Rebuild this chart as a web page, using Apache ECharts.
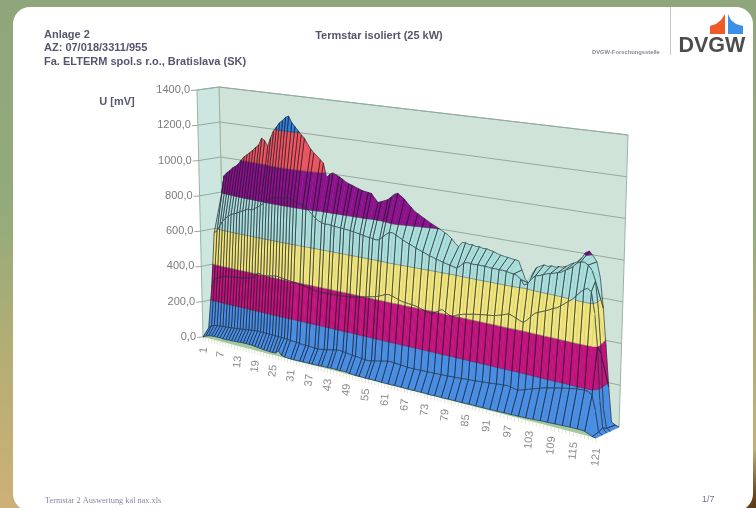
<!DOCTYPE html>
<html><head><meta charset="utf-8">
<style>
html,body{margin:0;padding:0;width:756px;height:508px;overflow:hidden;
background:radial-gradient(circle at 756px 508px,#5a3a14 0,#6b4a20 14px,rgba(107,74,32,0) 60px),linear-gradient(180deg,#8ea67a 0%,#93aa7c 40%,#b4ae74 70%,#cdb077 100%);}
#c{width:756px;height:508px;filter:blur(0.45px);}
</style>
<script src="https://cdn.jsdelivr.net/npm/echarts@6/dist/echarts.min.js"></script>
</head><body><div id="c"></div>
<script>
// Surface ridges, front (row0) to back (row4); index 0 is measurement 1
const row0 = [0,10,15,18,20,20,20,19,18,20,20,22,22,24,24,25,25,24,22,20,18,16,15,14,13,15,30,10,6,4,3,3,3,4,4,5,5,5,6,6,7,8,8,9,10,9,9,10,10,6,5,4,4,4,3,3,4,4,4,3,3,3,3,4,4,4,3,3,3,4,4,4,4,3,3,4,4,4,4,5,5,5,5,5,5,6,6,6,6,6,6,6,7,7,7,8,8,8,9,9,10,10,11,12,13,14,15,15,16,17,18,18,19,20,20,20,20,18,10,2,0];
const row1 = [45,60,66,68,70,72,73,75,76,78,80,82,84,86,88,90,93,95,94,94,93,92,93,92,91,90,90,88,86,85,84,82,80,80,79,78,77,76,78,82,85,88,92,95,97,95,93,90,88,86,85,83,81,80,83,87,90,94,98,102,103,102,100,99,97,96,95,95,96,96,97,97,98,98,99,99,100,101,102,103,104,105,107,108,109,110,112,113,115,116,118,120,122,123,125,122,118,115,120,126,132,138,144,150,156,160,164,168,172,176,180,183,186,190,190,191,190,175,108,10,0];
const row2 = [270,318,330,338,345,350,352,354,355,358,360,362,365,370,375,382,408,403,398,402,405,408,412,410,408,405,403,400,398,396,394,390,387,384,380,378,375,374,376,375,378,377,380,379,381,382,383,386,390,393,397,402,406,410,414,420,428,436,440,436,430,424,418,416,414,412,410,405,400,395,390,387,398,410,420,410,400,395,405,412,418,422,425,430,432,435,438,440,442,445,450,455,462,468,462,455,447,440,455,475,495,505,512,520,528,538,545,558,572,586,600,620,640,658,668,655,558,400,150,20,0];
const row3 = [575,590,620,650,670,685,698,705,712,722,730,738,748,742,755,765,778,792,808,822,832,838,835,840,846,848,842,836,830,824,818,811,795,778,762,750,744,738,741,738,736,735,733,732,730,728,726,722,720,716,712,710,708,704,708,725,742,755,758,748,740,730,722,715,708,700,693,686,680,673,668,662,658,652,648,644,640,635,650,668,674,672,670,673,671,672,670,668,669,667,668,666,662,660,656,640,615,625,652,670,675,682,690,695,700,706,712,725,735,748,768,778,780,770,748,700,560,360,100,10,0];
const row4 = [790,895,915,930,948,960,975,1000,1021,1035,1050,1066,1085,1100,1140,1130,1100,1150,1190,1215,1240,1255,1275,1284,1250,1230,1210,1190,1174,1145,1119,1100,1085,1068,1052,976,995,1006,998,990,980,968,960,955,948,942,936,932,930,927,905,885,892,900,908,925,942,950,938,925,905,888,870,860,850,840,830,820,812,803,795,785,775,760,740,725,750,752,746,748,742,744,738,740,735,732,725,720,717,715,712,710,708,665,620,606,660,690,700,710,705,712,708,714,715,722,735,745,755,775,805,815,795,770,697,553,370,180,15,5,0];
const ridges = [row0,row1,row2,row3,row4];
const ridgeDepth = [0,0.27,0.45,0.62,1];
const bandLevels = [0,200,400,600,800,1000,1200,1400];
const bandColors = ['#4a8fe6','#c4127f','#f1e67c','#a9e0dc','#8f118f','#ee5560','#2f7fdc'];
const yTicks = [0,200,400,600,800,1000,1200,1400];
const xTicks = [1,7,13,19,25,31,37,43,49,55,61,67,73,79,85,91,97,103,109,115,121];

const GL=197,GT=90,GW=400,GH=248;
// projected box: [t][depth][height]
const CORNERS={f0:[203,337],f1:[197,90],b0:[225,332],b1:[219,87],F0:[596,438],F1:[605,142],B0:[619,427],B1:[628,135]};
const warp=t=>0.86*t/(1-0.14*t);
function lerp(a,b,k){return [a[0]+(b[0]-a[0])*k,a[1]+(b[1]-a[1])*k];}
// api.coord gives flat position on the hidden axes, then the box projection leans it
function project(api,i,d,v){
  const p=api.coord([i,v]);
  const t=warp((p[0]-GL)/GW), h=(GT+GH-p[1])/GH, c=CORNERS;
  const L=lerp(lerp(c.f0,c.f1,h),lerp(c.b0,c.b1,h),d);
  const R=lerp(lerp(c.F0,c.F1,h),lerp(c.B0,c.B1,h),d);
  return lerp(L,R,t);
}
function clip(poly,lv,keepAbove){
  const out=[];
  for(let k=0;k<poly.length;k++){
    const a=poly[k],b=poly[(k+1)%poly.length];
    const ia=keepAbove?a[2]>=lv:a[2]<=lv, ib=keepAbove?b[2]>=lv:b[2]<=lv;
    if(ia) out.push(a);
    if(ia!==ib){const s=(lv-a[2])/(b[2]-a[2]);out.push([a[0]+(b[0]-a[0])*s,a[1]+(b[1]-a[1])*s,lv]);}
  }
  return out;
}
const cells=[];
for(let j=ridges.length-2;j>=0;j--) for(let i=120;i>=1;i--) cells.push([i,j]);

function wireStyle(i){
  const strong=i<28 || (i<58 ? i%3!==0 : i%2===0);
  return strong ? {stroke:'#14141f',lineWidth:0.8,opacity:0.82} : {stroke:'#14141f',lineWidth:0.5,opacity:0.12};
}
function renderCell(params,api){
  const i=api.value(0),j=api.value(1);
  const q=[[i,ridgeDepth[j],ridges[j][i-1]],[i+1,ridgeDepth[j],ridges[j][i]],[i+1,ridgeDepth[j+1],ridges[j+1][i]],[i,ridgeDepth[j+1],ridges[j+1][i-1]]];
  const P=a=>project(api,a[0],a[1],a[2]);
  const ch=[];
  for(let b=0;b<bandColors.length;b++){
    const p=clip(clip(q,bandLevels[b],true),bandLevels[b+1],false);
    if(p.length>2) ch.push({type:'polygon',shape:{points:p.map(P)},style:{fill:bandColors[b],stroke:bandColors[b],lineWidth:0.4}});
  }
  const seg=(A,B,s)=>{const a=P(A),b=P(B);ch.push({type:'line',shape:{x1:a[0],y1:a[1],x2:b[0],y2:b[1]},style:s});};
  seg(q[1],q[2],wireStyle(i+1)); seg(q[0],q[3],wireStyle(i));
  for(let b=1;b<bandLevels.length-1;b++){
    const lv=bandLevels[b],pts=[];
    for(let k=0;k<4;k++){const A=q[k],B=q[(k+1)%4];
      if((A[2]-lv)*(B[2]-lv)<0){const s=(lv-A[2])/(B[2]-A[2]);pts.push(P([A[0]+(B[0]-A[0])*s,A[1]+(B[1]-A[1])*s,lv]));}}
    if(pts.length>=2) ch.push({type:'line',shape:{x1:pts[0][0],y1:pts[0][1],x2:pts[1][0],y2:pts[1][1]},style:{stroke:'#2c2c3a',lineWidth:0.6,opacity:0.7}});
  }
  const ridge={stroke:'#23303a',lineWidth:0.8,opacity:0.85};
  seg(q[0],q[1],ridge); seg(q[3],q[2],ridge);
  return {type:'group',children:ch};
}
function renderBox(params,api){
  const PP=(t,d,v)=>project(api,t,d,v), ch=[];
  ch.push({type:'polygon',shape:{points:[PP(1,1,0),PP(121,1,0),PP(121,1,1400),PP(1,1,1400)]},style:{fill:'#d0e3d9',stroke:'#9cb4a9',lineWidth:1}});
  ch.push({type:'polygon',shape:{points:[PP(1,0,0),PP(1,1,0),PP(1,1,1400),PP(1,0,1400)]},style:{fill:'#cde6df',stroke:'#9cb4a9',lineWidth:1}});
  ch.push({type:'polygon',shape:{points:[PP(1,0,0),PP(121,0,0),PP(121,1,0),PP(1,1,0)]},style:{fill:'#a3c99f'}});
  yTicks.forEach(v=>{
    const a=PP(1,0,v),b=PP(1,1,v),c=PP(121,1,v);
    ch.push({type:'polyline',shape:{points:[[a[0]-6,a[1]+0.5],a,b,c]},style:{stroke:'#93aa9f',lineWidth:1,fill:null}});
    ch.push({type:'text',x:a[0]-7,y:a[1],style:{text:v.toFixed(1).replace('.',','),align:'right',verticalAlign:'middle',font:'11px "Liberation Sans"',fill:'#7c7c7c'}});
  });
  return {type:'group',children:ch};
}
function renderTicks(params,api){
  const ch=[];
  for(let i=1;i<=121;i++){const a=project(api,i,0,0);
    ch.push({type:'line',shape:{x1:a[0],y1:a[1],x2:a[0],y2:a[1]+4},style:{stroke:'#e0e6cf',lineWidth:1}});}
  xTicks.forEach(i=>{const a=project(api,i,0,0);
    ch.push({type:'text',x:a[0]+1,y:a[1]+10,rotation:1.47,style:{text:String(i),align:'right',verticalAlign:'middle',font:'11px "Liberation Sans"',fill:'#8a8a8a'}});});
  return {type:'group',children:ch};
}
const T='#55556e';
const txt=(x,y,s,font,fill,align)=>({type:'text',x,y,silent:true,style:{text:s,font,fill:fill||T,align:align||'left',verticalAlign:'middle'}});
const chart=echarts.init(document.getElementById('c'),null,{renderer:'canvas',width:756,height:508});
chart.setOption({
  animation:false,backgroundColor:'transparent',
  grid:{left:GL,top:GT,width:GW,height:GH},
  xAxis:{type:'value',min:1,max:121,show:false},
  yAxis:{type:'value',min:0,max:1400,interval:200,show:false},
  graphic:[
    {type:'rect',z:-10,silent:true,shape:{x:13,y:7,width:740,height:504,r:17},style:{fill:'#fff'}},
    txt(44,35,'Anlage 2','bold 11px "Liberation Sans"'),
    txt(44,48,'AZ: 07/018/3311/955','bold 11px "Liberation Sans"'),
    txt(44,62,'Fa. ELTERM spol.s r.o., Bratislava (SK)','bold 11px "Liberation Sans"'),
    txt(379,36,'Termstar isoliert (25 kW)','bold 11px "Liberation Sans"',T,'center'),
    txt(117,102,'U [mV]','bold 11px "Liberation Sans"',T,'center'),
    txt(592,52.5,'DVGW-Forschungsstelle','bold 5.8px "Liberation Sans"','#85859a'),
    {type:'line',silent:true,shape:{x1:670.5,y1:7,x2:670.5,y2:55},style:{stroke:'#c4c4c4',lineWidth:1}},
    {type:'polygon',silent:true,shape:{points:[[710,34],[710,26],[716,24],[721,20],[725,14],[725,34]]},style:{fill:'#ee5a28'}},
    {type:'polygon',silent:true,shape:{points:[[728,14],[731,20],[736,24],[743,26],[743,34],[728,34]]},style:{fill:'#3d8fe8'}},
    txt(678.5,46,'DVGW','bold 21.5px "Liberation Sans"','#4c4c4c'),
    txt(45,501,'Termstar 2 Auswertung kal nax.xls','8.3px "Liberation Serif"','#8585a8'),
    txt(702,500,'1/7','9px "Liberation Sans"','#77778c')
  ],
  series:[
    {type:'custom',silent:true,clip:false,z:1,data:[[0]],renderItem:renderBox,encode:{x:0}},
    {type:'custom',silent:true,clip:false,z:2,data:[[0]],renderItem:renderTicks,encode:{x:0}},
    {type:'custom',silent:true,clip:false,z:3,data:cells,renderItem:renderCell,encode:{x:0}}
  ]
});
</script></body></html>
